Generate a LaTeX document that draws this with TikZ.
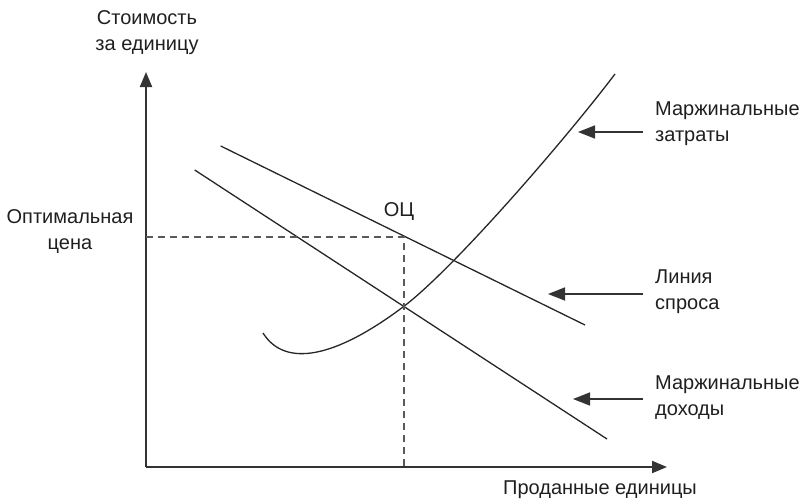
\documentclass[tikz,border=0pt]{standalone}
\usepackage{fontspec}
\setmainfont{Liberation Sans}
\usetikzlibrary{arrows.meta}
\begin{document}
\begin{tikzpicture}[x=1pt,y=-1pt,
  axis/.style={line width=2pt, draw=black!80, -{Triangle[length=15pt,width=12pt]}},
  curve/.style={line width=1.3pt, draw=black!85},
  guide/.style={line width=1.5pt, draw=black!65, dash pattern=on 7pt off 5pt},
  pointer/.style={line width=1.6pt, draw=black!80, -{Triangle[length=17pt,width=13pt]}},
  lbl/.style={font=\fontsize{20}{26}\selectfont, text=black!88, inner sep=0pt},
]
\useasboundingbox (0,0) rectangle (800,503);

% axes
\coordinate (O) at (146,467);
\coordinate (ytip) at (146,72);
\coordinate (xtip) at (667,467);
\draw[axis] (O) -- (ytip);
\draw[axis] (O) -- (xtip);

% demand line and marginal revenue line
\coordinate (d1) at (220.7,146);
\coordinate (d2) at (585,325);
\coordinate (r1) at (194.7,170);
\coordinate (r2) at (607,439);
\draw[curve] (d1) -- (d2);
\draw[curve] (r1) -- (r2);

% marginal cost curve
\coordinate (mc0) at (263,333);
\coordinate (mc1) at (403,307);
\coordinate (mc2) at (615,74);
\draw[curve] (mc0) .. controls (285,368) and (335,358) .. (mc1)
                   .. controls (453,269.5) and (565,140) .. (mc2);

% optimal price guides
\coordinate (oc) at (404,237);
\coordinate (py) at (146,237);
\coordinate (px) at (404,467);
\draw[guide] (py) -- (oc) -- (px);

% axis and point labels
\node[lbl, align=center] (ylab) at (147,33) {Стоимость\\за единицу};
\node[lbl, align=center] (plab) at (70,232) {Оптимальная\\цена};
\node[lbl] (oclab) at (399,212) {ОЦ};
\node[lbl] (xlab) at (600,490) {Проданные единицы};

% curve names with pointers
\node[lbl, align=left, anchor=west] (mclab) at (655,123.5) {Маржинальные\\затраты};
\node[lbl, align=left, anchor=west] (dlab) at (655,291.5) {Линия\\спроса};
\node[lbl, align=left, anchor=west] (mrlab) at (655,397.5) {Маржинальные\\доходы};

\coordinate (mct) at (643,132);
\coordinate (mch) at (578,132);
\coordinate (dt) at (643,294);
\coordinate (dh) at (548,294);
\coordinate (mrt) at (643,399);
\coordinate (mrh) at (573,399);
\draw[pointer] (mct) -- (mch);
\draw[pointer] (dt) -- (dh);
\draw[pointer] (mrt) -- (mrh);
\end{tikzpicture}
\end{document}
